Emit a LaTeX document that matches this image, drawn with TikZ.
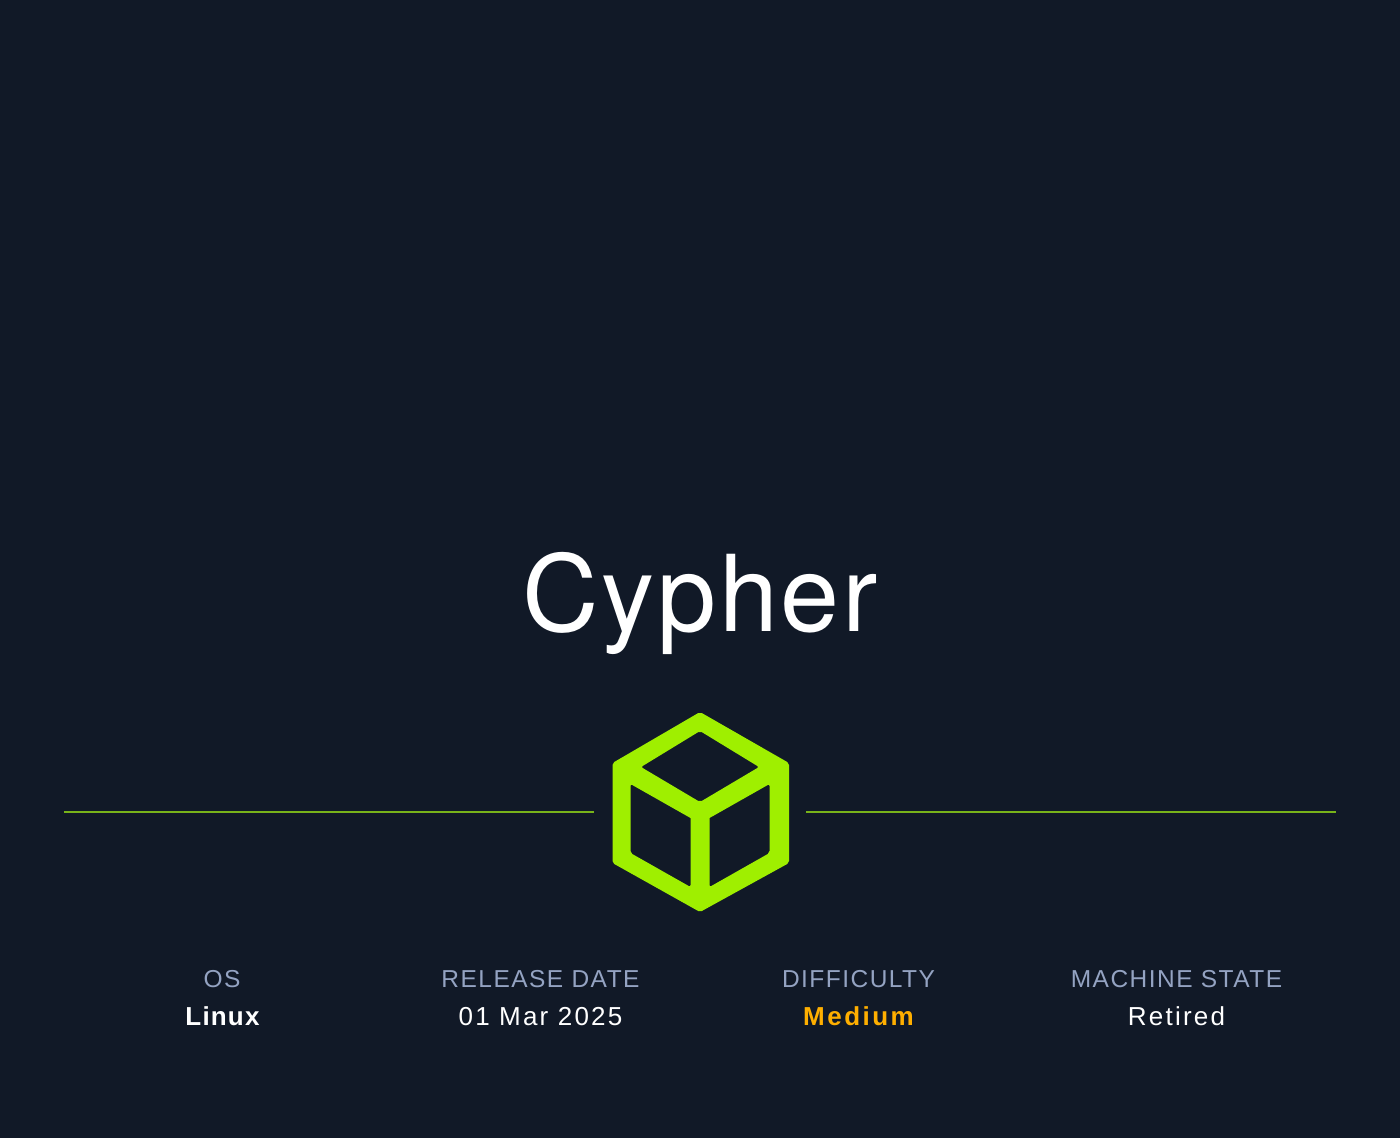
\documentclass[tikz,border=0pt]{standalone}
\usepackage{fontspec}
\setmainfont{Liberation Sans}
\newfontfamily\titlefont[LetterSpace=2.7]{TeX Gyre Heros}
\newfontfamily\headfont[LetterSpace=6]{Liberation Sans}
\newfontfamily\valuefont[LetterSpace=8.5]{Liberation Sans}
\newfontfamily\boldvalfont[LetterSpace=4.5]{Liberation Sans}
\newfontfamily\amberfont[LetterSpace=9.5]{Liberation Sans}
\usepackage{xcolor}
\definecolor{pagebg}{HTML}{111927}
\definecolor{boxgreen}{HTML}{9FEF00}
\definecolor{rulegreen}{HTML}{78B31A}
\definecolor{headblue}{HTML}{94A3C2}
\definecolor{diffamber}{HTML}{FFAF00}
\tikzset{
	head/.style={text=headblue,font=\headfont\fontsize{24.5}{28}\selectfont,anchor=base,inner sep=0pt},
	val/.style={text=white,font=\valuefont\fontsize{26}{30}\selectfont,anchor=base,inner sep=0pt},
	boldval/.style={val,font=\boldvalfont\bfseries\fontsize{26}{30}\selectfont},
	hairline/.style={rulegreen,line width=2pt}
}
\begin{document}
\begin{tikzpicture}[x=1pt,y=-1pt]
	\fill[pagebg] (0,0) rectangle (1400,1138);
	\useasboundingbox (0,0) rectangle (1400,1138);
	\node(title) at (700,631)[anchor=base,text=white,inner sep=0pt,font=\titlefont\fontsize{106}{120}\selectfont]{Cypher};
	\coordinate(la) at (64,812);
	\coordinate(lb) at (594,812);
	\coordinate(ra) at (806,812);
	\coordinate(rb) at (1336,812);
	\draw[hairline] (la) -- (lb);
	\draw[hairline] (ra) -- (rb);
	% cube
	\fill[boxgreen,even odd rule,rounded corners=2pt]
		(700,712) -- (789,763) -- (789,863) -- (700,912) -- (612.5,863) -- (612.5,763) -- cycle
		(700,731) -- (759,767) -- (700,802) -- (641,767) -- cycle
		(630.5,784) [sharp corners] -- (690.5,818) [rounded corners=2pt] -- (690.5,887) -- (630.5,853) -- cycle
		(769.5,784) [sharp corners] -- (709.5,818) [rounded corners=2pt] -- (709.5,887) -- (769.5,853) -- cycle;
	\node(os) at (222,987)[head]{OS};
	\node(rel) at (540.5,987)[head]{RELEASE DATE};
	\node(diff) at (858.5,987)[head]{DIFFICULTY};
	\node(state) at (1176.5,987)[head]{MACHINE STATE};
	\node(linux) at (222.5,1025)[boldval]{Linux};
	\node(date) at (540.5,1025)[val]{01 Mar 2025};
	\node(med) at (858.5,1025)[boldval,text=diffamber,font=\amberfont\bfseries\fontsize{26}{30}\selectfont]{Medium};
	\node(ret) at (1176.5,1025)[val]{Retired};
\end{tikzpicture}
\end{document}
